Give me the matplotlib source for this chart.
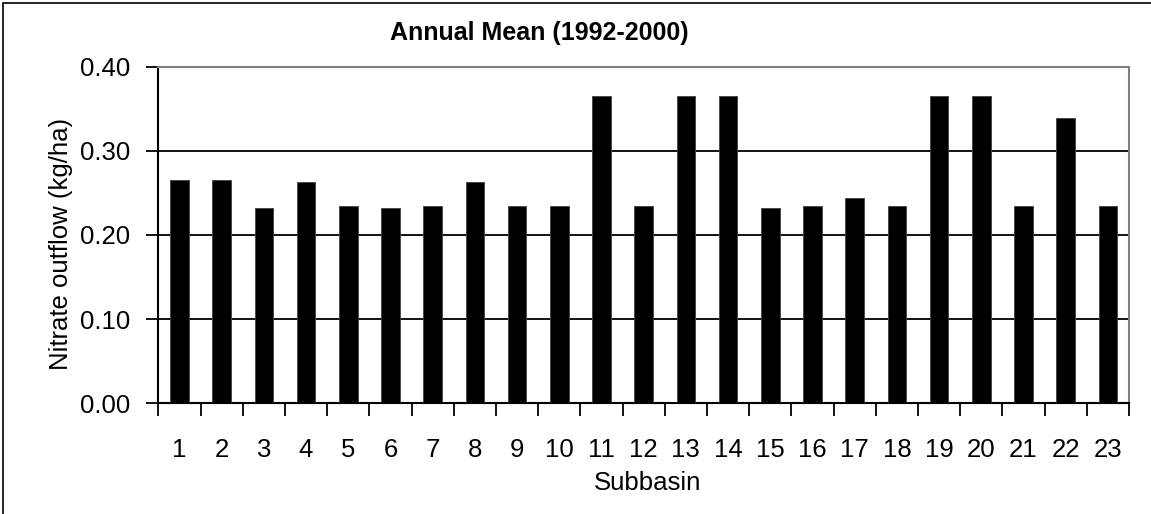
import matplotlib

matplotlib.use("Agg")
import matplotlib.pyplot as plt
from matplotlib.patches import Rectangle
from matplotlib.ticker import FormatStrFormatter

# Chart data
subbasins = [str(i) for i in range(1, 24)]
nitrate_outflow = [
    0.265, 0.265, 0.232, 0.263, 0.235, 0.232, 0.235, 0.263, 0.235, 0.235,
    0.365, 0.235, 0.365, 0.365, 0.232, 0.235, 0.244, 0.235, 0.365, 0.365,
    0.235, 0.339, 0.235,
]
y_ticks = [0.0, 0.1, 0.2, 0.3, 0.4]

plt.rcParams["font.family"] = ["Liberation Sans", "DejaVu Sans"]

W, H = 1151, 514
fig = plt.figure(figsize=(W / 100, H / 100), dpi=100)

# Outer chart frame
fig.patches.append(
    Rectangle((3 / W, -0.1), 1.2, (H - 3) / H + 0.1, transform=fig.transFigure,
              fill=False, edgecolor="black", linewidth=1.2)
)

ax = fig.add_axes([158.3 / W, (H - 403.3) / H, (1129 - 158.3) / W, (403.3 - 66.7) / H])

x = list(range(len(subbasins)))
ax.bar(x, nitrate_outflow, width=0.44, color="black", edgecolor="#404040",
       linewidth=0.6, zorder=3)

ax.set_xlim(-0.5, len(subbasins) - 0.5)
ax.set_ylim(0, 0.4)

# Category boundaries as ticks, labels at the centres
ax.set_xticks([i - 0.5 for i in range(len(subbasins) + 1)])
ax.set_xticklabels([])
ax.set_xticks(x, subbasins, minor=True)
ax.tick_params(axis="x", which="major", direction="out", length=9, width=1.3,
               color="black")
ax.tick_params(axis="x", which="minor", length=0, pad=25, labelsize=18.5)

ax.set_yticks(y_ticks)
ax.yaxis.set_major_formatter(FormatStrFormatter("%.2f"))
ax.tick_params(axis="y", direction="out", length=9, width=1.3, pad=11,
               labelsize=18.5, color="black")

ax.grid(axis="y", color="black", linewidth=1.3, zorder=1)
ax.set_axisbelow(True)

for side in ["top", "right"]:
    ax.spines[side].set_color("#808080")
    ax.spines[side].set_linewidth(1.5)
for side in ["left", "bottom"]:
    ax.spines[side].set_color("black")
    ax.spines[side].set_linewidth(1.5)

fig.text(539 / W, 1 - 33 / H, "Annual Mean (1992-2000)", ha="center",
         va="center", fontsize=18, fontweight="bold")
fig.text(648 / W, 1 - 483 / H, "Subbasin", ha="center", va="center",
         fontsize=18.5)
fig.text(61 / W, 1 - 244 / H, "Nitrate outflow (kg/ha)", ha="center",
         va="center", rotation=90, fontsize=18.5)

fig.savefig("out.png", dpi=100)
